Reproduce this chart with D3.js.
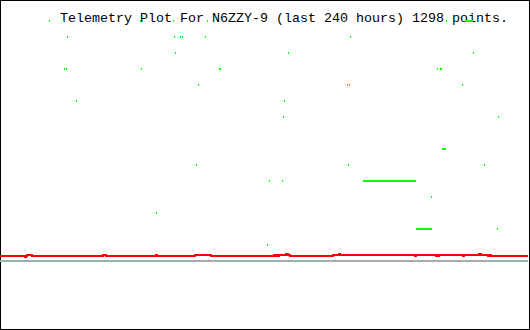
<!DOCTYPE html>
<html>
<head>
<meta charset="utf-8">
<script src="https://cdn.jsdelivr.net/npm/d3@7"></script>
<style>
    body { margin: 0; background: #fff; }
    svg { display: block; }
</style>
</head>
<body>
<div id="plot"></div>
<script>

// title
var titleText = "Telemetry Plot For N6ZZY-9 (last 240 hours) 1298 points.";

// green channel: runs of samples (start hour, end hour, level)
var greenStart = [22.3, 28.6, 63.6, 78.6, 94.1, 202.7, 211.4,
                  30.5, 79.1, 81.8, 82.7, 93.2, 159.1,
                  79.5, 130.9, 215.0,
                  29.1, 30.0, 64.1, 99.5, 198.6, 200.0,
                  90.0, 157.7, 158.6, 210.0,
                  34.5, 129.1,
                  128.6, 226.4,
                  200.9,
                  89.1, 158.2, 220.0,
                  122.3, 128.2, 165.0,
                  195.9,
                  70.9,
                  189.1, 225.9,
                  121.4];
var greenEnd   = [22.3, 28.6, 63.6, 78.6, 94.1, 202.7, 214.5,
                  30.5, 79.1, 81.8, 82.7, 93.2, 159.1,
                  79.5, 130.9, 215.0,
                  29.1, 30.0, 64.1, 100.0, 198.6, 200.5,
                  90.0, 157.7, 158.6, 210.0,
                  34.5, 129.1,
                  128.6, 226.4,
                  202.3,
                  89.1, 158.2, 220.0,
                  122.3, 128.2, 188.6,
                  195.9,
                  70.9,
                  195.9, 225.9,
                  121.4];
var greenLevel = [15, 15, 15, 15, 15, 15, 15,
                  14, 14, 14, 14, 14, 14,
                  13, 13, 13,
                  12, 12, 12, 12, 12, 12,
                  11, 11, 11, 11,
                  10, 10,
                  9, 9,
                  7,
                  6, 6, 6,
                  5, 5, 5,
                  4,
                  3,
                  2, 2,
                  1];

// red channel: hour where the level changes, and the level
var redHours  = [0, 11.4, 11.8, 12.3, 14.5, 46.8, 48.2, 70.9, 71.4, 88.6, 95.9,
                 124.5, 125.5, 125.9, 126.4, 126.8, 130.0, 130.9, 131.8,
                 151.4, 154.1, 154.5, 188.6, 189.1, 198.2, 198.6, 199.1, 199.5,
                 210.5, 210.9, 217.7, 218.6, 221.8, 222.3, 223.2, 240];
var redLevel  = [0.3125, 0.25, 0.3125, 0.375, 0.3125, 0.375, 0.3125, 0.375, 0.3125, 0.375, 0.3125,
                 0.375, 0.3125, 0.375, 0.3125, 0.375, 0.4375, 0.375, 0.3125,
                 0.375, 0.4375, 0.375, 0.3125, 0.375, 0.3125, 0.375, 0.3125, 0.375,
                 0.3125, 0.375, 0.4375, 0.375, 0.3125, 0.375, 0.3125, 0.3125];

// baseline channel
var grayHours = [0, 240];
var grayLevel = [0, 0];


var width = 530,
    height = 330;

var svg = d3.select("#plot").append("svg")
    .attr("width", width)
    .attr("height", height)
    .attr("shape-rendering", "crispEdges");

var x = d3.scaleLinear().domain([0, 240]).range([0, 528]);
var y = d3.scaleLinear().domain([0, 15]).range([261, 21]);

// frame
svg.append("rect")
    .attr("x", 0.5)
    .attr("y", 0.5)
    .attr("width", 528.5)
    .attr("height", 328.5)
    .attr("fill", "#fff")
    .attr("stroke", "#000")
    .attr("stroke-width", 1);

svg.append("text")
    .attr("x", 60)
    .attr("y", 22)
    .attr("font-family", "'Liberation Mono', 'DejaVu Sans Mono', monospace")
    .attr("font-size", "13.33px")
    .attr("fill", "#000")
    .attr("shape-rendering", "auto")
    .text(titleText);

var line = d3.line()
    .x(function(d) { return x(d[0]); })
    .y(function(d) { return y(d[1]); })
    .curve(d3.curveStepAfter);

svg.append("path")
    .datum(d3.zip(grayHours, grayLevel))
    .attr("d", line)
    .attr("fill", "none")
    .attr("stroke", "#aaaaaa")
    .attr("stroke-width", 2);

svg.append("path")
    .datum(d3.zip(redHours, redLevel))
    .attr("d", line)
    .attr("fill", "none")
    .attr("stroke", "#ff0000")
    .attr("stroke-width", 2);

var greens = d3.zip(greenStart, greenEnd, greenLevel);

svg.selectAll("rect.green")
    .data(greens)
    .enter().append("rect")
    .classed("green", true)
    .attr("x", function(d) { return Math.round(x(d[0])); })
    .attr("y", function(d) { return Math.round(y(d[2])) - 1; })
    .attr("width", function(d) {
        return Math.max(1, Math.round(x(d[1]) - x(d[0])) + 1);
    })
    .attr("height", 2)
    .attr("fill", "#00ff00");

</script>
</body>
</html>
